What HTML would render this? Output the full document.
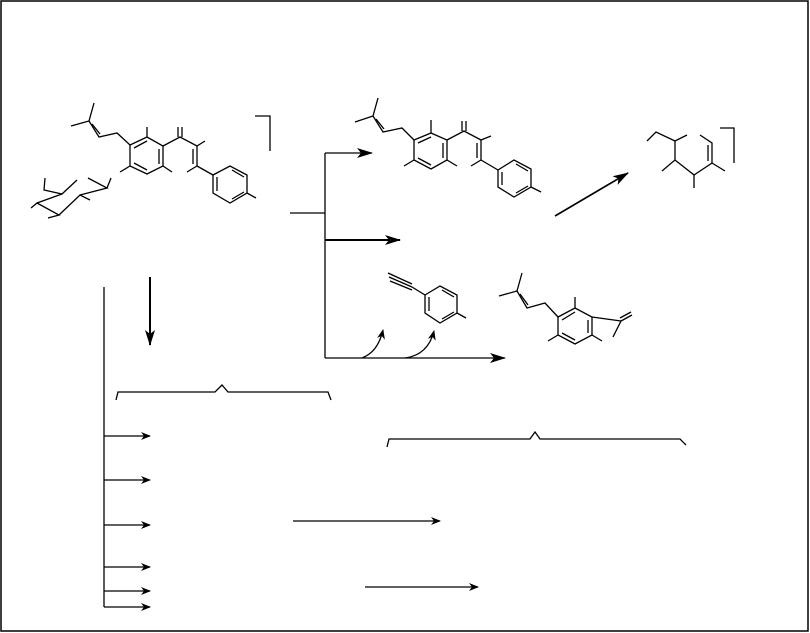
<!DOCTYPE html>
<html><head><meta charset="utf-8"><style>html,body{margin:0;padding:0;background:#fff}svg{display:block}</style></head>
<body>
<svg width="810" height="633" viewBox="0 0 810 633" xmlns="http://www.w3.org/2000/svg">
<defs>
<marker id="a" markerWidth="10" markerHeight="8" refX="9" refY="4" orient="auto" markerUnits="userSpaceOnUse"><path d="M0,0 L10,4 L0,8 L3,4z" fill="#000"/></marker>
<marker id="b" markerWidth="16" markerHeight="10" refX="15" refY="5" orient="auto" markerUnits="userSpaceOnUse"><path d="M0,0 L16,5 L0,10 L4,5z" fill="#000"/></marker>
</defs>
<rect x="1" y="1" width="807" height="630" fill="none" stroke="#000" stroke-width="1.5"/>
<g stroke="#000" stroke-width="1.3" fill="none">
<!-- structure 1 -->
<polyline points="71,126 89,121 94,103"/><polyline points="89,121 99,137 117,133 130,145"/><line x1="92" y1="124" x2="100" y2="134"/>
<polygon points="130,145 147,137 163,146 163,166 147,174 130,166"/>
<line x1="134" y1="148" x2="147" y2="141"/><line x1="159" y1="149" x2="159" y2="164"/><line x1="134" y1="163" x2="147" y2="170"/>
<line x1="147" y1="137" x2="147" y2="127"/><line x1="163" y1="166" x2="172" y2="172"/><line x1="130" y1="166" x2="120" y2="172"/>
<polyline points="163,146 180,137 197,146 205,141"/><line x1="178" y1="137" x2="178" y2="127"/><line x1="182" y1="137" x2="182" y2="127"/>
<line x1="197" y1="146" x2="197" y2="166"/><line x1="193" y1="149" x2="193" y2="164"/><line x1="197" y1="166" x2="187" y2="172"/><line x1="197" y1="166" x2="213" y2="175"/>
<polygon points="213,175 230,166 247,175 247,193 230,203 213,193"/><line x1="217" y1="177" x2="217" y2="191"/><line x1="232" y1="170" x2="244" y2="177"/><line x1="232" y1="199" x2="244" y2="192"/><line x1="247" y1="193" x2="256" y2="198"/>
<polyline points="45,178 44,190 62,194 77,180"/><polyline points="31,208 37,203 62,194"/><polyline points="37,203 59,215 48,218"/><polyline points="59,215 80,195 90,200"/><polyline points="80,195 107,188 88,178"/><line x1="107" y1="188" x2="111" y2="178"/>
<polyline points="255,116 270,116 270,151"/>
<!-- branch arrows -->
<line x1="290" y1="213" x2="325" y2="213"/><line x1="325" y1="153" x2="325" y2="358"/>
<line x1="325" y1="153" x2="372" y2="153" marker-end="url(#b)"/><line x1="325" y1="240" x2="400" y2="240" marker-end="url(#b)" stroke-width="2"/><line x1="325" y1="358" x2="505" y2="358" marker-end="url(#b)"/>
<!-- structure 2 -->
<polyline points="355,122 373,116 378,98"/><polyline points="373,116 383,132 402,128 414,140"/><line x1="376" y1="119" x2="384" y2="129"/>
<polygon points="414,140 431,133 447,140 447,160 431,169 414,160"/><line x1="418" y1="143" x2="431" y2="137"/><line x1="443" y1="143" x2="443" y2="158"/><line x1="418" y1="158" x2="431" y2="165"/>
<line x1="431" y1="133" x2="431" y2="120"/><line x1="414" y1="160" x2="404" y2="166"/><line x1="447" y1="160" x2="457" y2="166"/>
<polyline points="447,140 464,131 481,140 491,136"/><line x1="462" y1="131" x2="462" y2="121"/><line x1="466" y1="131" x2="466" y2="121"/>
<line x1="481" y1="140" x2="481" y2="160"/><line x1="477" y1="143" x2="477" y2="158"/><line x1="481" y1="160" x2="471" y2="166"/><line x1="481" y1="160" x2="498" y2="170"/>
<polygon points="498,170 514,160 531,169 531,187 514,197 498,187"/><line x1="502" y1="172" x2="502" y2="185"/><line x1="516" y1="164" x2="528" y2="171"/><line x1="516" y1="193" x2="528" y2="186"/><line x1="531" y1="187" x2="541" y2="192"/>
<line x1="555" y1="216" x2="628" y2="173" marker-end="url(#b)" stroke-width="1.6"/>
<!-- structure 3 -->
<polyline points="647,141 656,132 675,141 687,135"/><polyline points="675,141 675,160 662,171"/><polyline points="675,160 694,175 694,188"/><polyline points="694,175 712,163 712,143 700,135"/><line x1="708" y1="161" x2="708" y2="145"/><line x1="712" y1="163" x2="725" y2="171"/>
<polyline points="720,128 734,128 734,163"/>
<!-- structure 4 -->
<line x1="389" y1="277" x2="412" y2="287"/><line x1="390" y1="281" x2="412" y2="290"/><line x1="388" y1="273" x2="412" y2="284"/><line x1="412" y1="287" x2="425" y2="295"/>
<polygon points="425,295 440,286 457,295 457,313 440,323 425,313"/><line x1="429" y1="297" x2="429" y2="311"/><line x1="442" y1="290" x2="454" y2="297"/><line x1="442" y1="319" x2="454" y2="312"/><line x1="457" y1="313" x2="466" y2="318"/>
<path d="M362,358 Q378,352 383,330" marker-end="url(#a)"/><path d="M405,358 Q428,355 434,331" marker-end="url(#a)"/>
<!-- structure 5 -->
<polyline points="499,296 517,291 522,273"/><polyline points="517,291 527,308 545,303 558,317"/><line x1="520" y1="294" x2="528" y2="305"/>
<polygon points="558,317 575,308 592,317 592,335 575,344 558,335"/><line x1="562" y1="320" x2="575" y2="312"/><line x1="588" y1="320" x2="588" y2="333"/><line x1="562" y1="333" x2="575" y2="340"/>
<line x1="575" y1="308" x2="575" y2="297"/><line x1="558" y1="335" x2="548" y2="341"/><line x1="592" y1="335" x2="602" y2="341"/>
<line x1="592" y1="317" x2="621" y2="321"/><line x1="621" y1="321" x2="632" y2="315"/><line x1="620" y1="318" x2="631" y2="312"/><line x1="621" y1="321" x2="613" y2="337"/>
<!-- lower left -->
<line x1="150" y1="277" x2="150" y2="345" marker-end="url(#b)" stroke-width="2"/>
<line x1="104" y1="287" x2="104" y2="607"/>
<polyline points="116,400 118,392 215,392 222,385 228,392 328,392 331,400"/>
<line x1="104" y1="436" x2="150" y2="436" marker-end="url(#a)"/><line x1="104" y1="480" x2="150" y2="480" marker-end="url(#a)"/><line x1="104" y1="525" x2="150" y2="525" marker-end="url(#a)"/><line x1="104" y1="567" x2="150" y2="567" marker-end="url(#a)"/><line x1="104" y1="591" x2="150" y2="591" marker-end="url(#a)"/><line x1="104" y1="607" x2="150" y2="607" marker-end="url(#a)"/>
<polyline points="387,447 389,439 530,439 535,432 540,439 680,439 686,445"/>
<line x1="293" y1="521" x2="440" y2="521" marker-end="url(#a)"/><line x1="365" y1="587" x2="478" y2="587" marker-end="url(#a)"/>
</g>
</svg>
</body></html>
